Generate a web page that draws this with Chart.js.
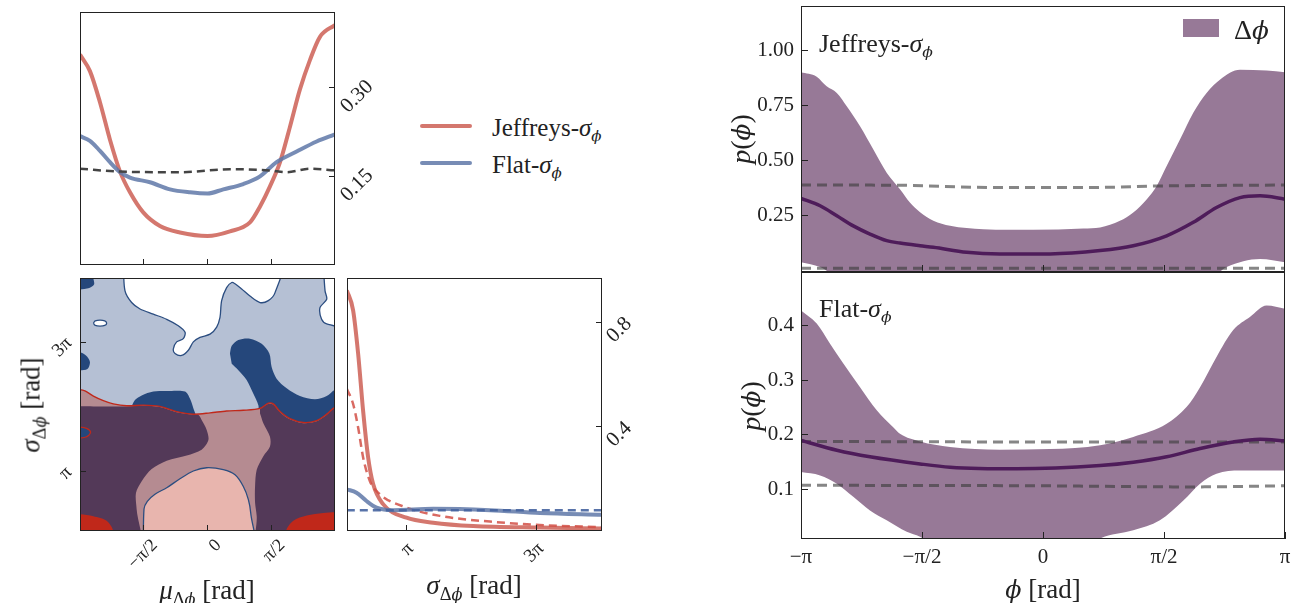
<!DOCTYPE html>
<html>
<head>
<meta charset="utf-8">
<script src="https://cdn.jsdelivr.net/npm/chart.js@4.4.1/dist/chart.umd.min.js"></script>
<style>
  body { margin: 0; background: #fff; width: 1291px; height: 603px; position: relative; overflow: hidden;
         font-family: 'Liberation Serif', serif; color: #222; }
  .box { position: absolute; }
  .lbl { position: absolute; white-space: nowrap; line-height: 1; transform: translate(0, -50%); color: #222; }
  .ctr { transform: translate(-50%, -50%); }
  .rot { transform: translate(-50%, -50%) rotate(-90deg); }
  sub { font-size: 0.68em; vertical-align: -0.3em; line-height: 0; }
  .ph { font-family: 'DejaVu Serif', serif; font-style: italic; font-size: 0.88em; color: #222; }
  .swatch { position: absolute; }
</style>
</head>
<body>

<div class="box" style="left:0;top:0;width:420px;height:275px"><canvas id="muChart"></canvas></div>
<div class="box" style="left:0;top:275px;width:340px;height:328px"><canvas id="jointChart"></canvas></div>
<div class="box" style="left:340px;top:275px;width:330px;height:328px"><canvas id="sigChart"></canvas></div>
<div class="box" style="left:680px;top:0;width:611px;height:273px"><canvas id="jeffChart"></canvas></div>
<div class="box" style="left:680px;top:271px;width:611px;height:332px"><canvas id="flatChart"></canvas></div>

<!-- legend of the left-hand panels -->
<div class="swatch" style="left:420px;top:124px;width:52px;height:4px;border-radius:2px;background:rgba(205,95,85,0.85)"></div>
<div class="lbl" style="left:492px;top:127px;font-size:25px">Jeffreys-<i>σ</i><sub><span class="ph">ϕ</span></sub></div>
<div class="swatch" style="left:420px;top:161px;width:52px;height:4px;border-radius:2px;background:rgba(95,120,168,0.85)"></div>
<div class="lbl" style="left:492px;top:164px;font-size:25px">Flat-<i>σ</i><sub><span class="ph">ϕ</span></sub></div>

<!-- right-hand panels -->
<div class="lbl" style="left:819px;top:44px;font-size:26px">Jeffreys-<i>σ</i><sub><span class="ph">ϕ</span></sub></div>
<div class="lbl" style="left:819px;top:309px;font-size:26px">Flat-<i>σ</i><sub><span class="ph">ϕ</span></sub></div>
<div class="swatch" style="left:1183px;top:19px;width:36px;height:18px;background:#977997"></div>
<div class="lbl" style="left:1234px;top:30px;font-size:28px">Δ<span class="ph">ϕ</span></div>

<!-- axis titles -->
<div class="lbl ctr" style="left:207px;top:590px;font-size:27px"><i>μ</i><sub>Δ<span class="ph">ϕ</span></sub> [rad]</div>
<div class="lbl ctr" style="left:474px;top:585px;font-size:27px"><i>σ</i><sub>Δ<span class="ph">ϕ</span></sub> [rad]</div>
<div class="lbl rot" style="left:31px;top:405px;font-size:27px"><i>σ</i><sub>Δ<span class="ph">ϕ</span></sub> [rad]</div>
<div class="lbl ctr" style="left:1043px;top:589px;font-size:27px"><span class="ph">ϕ</span> [rad]</div>
<div class="lbl rot" style="left:741px;top:139px;font-size:28px"><i>p</i>(<span class="ph">ϕ</span>)</div>
<div class="lbl rot" style="left:751px;top:406px;font-size:28px"><i>p</i>(<span class="ph">ϕ</span>)</div>

<script>
// ---------- data (angles in units of pi) ----------
// marginal of mu (top left)
const muJeffX = [-1, -0.922, -0.843, -0.765, -0.686, -0.608, -0.504, -0.373, -0.216, 0, 0.176, 0.333, 0.412, 0.49, 0.569, 0.647, 0.725, 0.804, 0.882, 1];
const muJeffY = [0.356, 0.328, 0.275, 0.212, 0.158, 0.123, 0.089, 0.066, 0.055, 0.049, 0.057, 0.072, 0.099, 0.133, 0.174, 0.234, 0.297, 0.347, 0.386, 0.406];
const muFlatX = [-1, -0.922, -0.843, -0.765, -0.686, -0.608, -0.451, -0.294, -0.137, 0, 0.124, 0.281, 0.412, 0.542, 0.699, 0.856, 1];
const muFlatY = [0.218, 0.210, 0.193, 0.174, 0.157, 0.148, 0.140, 0.128, 0.123, 0.121, 0.128, 0.137, 0.150, 0.174, 0.192, 0.209, 0.221];
const muPriorX = [-1, -0.686, -0.216, 0.176, 0.49, 0.621, 0.804, 1];
const muPriorY = [0.163, 0.158, 0.157, 0.162, 0.160, 0.157, 0.163, 0.160];

// marginal of sigma (bottom middle)
const sigJeffX = [0.077, 0.174, 0.251, 0.328, 0.405, 0.482, 0.635, 0.995, 1.405, 2.02, 3.046, 4.0];
const sigJeffY = [0.923, 0.846, 0.68, 0.46, 0.282, 0.18, 0.103, 0.051, 0.032, 0.019, 0.013, 0.01];
const sigJeffPriorX = [0.077, 0.174, 0.251, 0.328, 0.431, 0.585, 0.995, 1.508, 2.277, 3.046, 4.0];
const sigJeffPriorY = [0.545, 0.487, 0.397, 0.282, 0.192, 0.141, 0.09, 0.058, 0.036, 0.023, 0.015];
const sigFlatX = [0.077, 0.226, 0.38, 0.534, 0.789, 1.405, 2.277, 3.046, 4.0];
const sigFlatY = [0.16, 0.147, 0.115, 0.09, 0.08, 0.085, 0.08, 0.069, 0.062];
const sigFlatPriorX = [0.077, 4.0];
const sigFlatPriorY = [0.08, 0.08];

// joint (mu, sigma) contour regions, [mu/pi, sigma/pi]
const whiteTop = [[-0.66,4.2],[-0.647,3.80],[-0.595,3.62],[-0.529,3.52],[-0.425,3.44],[-0.32,3.36],[-0.229,3.26],[-0.176,3.16],[-0.19,3.06],[-0.242,3.01],[-0.268,2.90],[-0.255,2.83],[-0.203,2.80],[-0.15,2.88],[-0.111,3.01],[-0.059,3.08],[0.02,3.13],[0.072,3.24],[0.098,3.39],[0.111,3.65],[0.15,3.85],[0.19,3.93],[0.216,3.91],[0.268,3.83],[0.333,3.72],[0.412,3.62],[0.477,3.65],[0.529,3.77],[0.569,4.2]];
const whiteRight = [[0.908,4.2],[0.922,3.80],[0.935,3.67],[0.882,3.54],[0.895,3.36],[0.935,3.29],[1.1,3.26],[1.1,4.2]];
const whiteHole = [[-0.895,3.30],[-0.88,3.335],[-0.843,3.346],[-0.806,3.335],[-0.791,3.30],[-0.806,3.265],[-0.843,3.254],[-0.88,3.265]];
const darkCorner = [[-1.1,4.2],[-0.895,4.2],[-0.895,4.0],[-0.89,3.90],[-0.935,3.84],[-1.1,3.81]];
const darkLeft = [[-1.1,2.85],[-1,2.85],[-0.953,2.80],[-0.922,2.70],[-0.942,2.59],[-1,2.57],[-1.1,2.57]];
const darkRight = [[0.176,2.83],[0.19,2.95],[0.242,3.04],[0.333,3.06],[0.425,2.98],[0.485,2.83],[0.503,2.62],[0.542,2.44],[0.621,2.29],[0.725,2.17],[0.843,2.12],[0.935,2.17],[1.0,2.27],[1.1,2.3],[1.1,1.7],[0.412,1.85],[0.399,2.03],[0.359,2.21],[0.307,2.42],[0.242,2.57],[0.19,2.67]];
const darkMid = [[-0.595,2.01],[-0.569,2.11],[-0.516,2.18],[-0.425,2.24],[-0.294,2.25],[-0.176,2.24],[-0.137,2.13],[-0.111,1.98],[-0.098,1.85],[-0.595,1.85]];
const redEdge = [[-1.1,2.27],[-1,2.27],[-0.961,2.25],[-0.895,2.17],[-0.817,2.10],[-0.739,2.05],[-0.634,2.02],[-0.503,2.03],[-0.373,2.01],[-0.242,1.93],[-0.111,1.89],[0.02,1.91],[0.15,1.94],[0.281,1.95],[0.412,1.98],[0.477,2.06],[0.516,2.05],[0.569,1.93],[0.647,1.82],[0.752,1.76],[0.856,1.79],[0.935,1.89],[0.987,1.98],[1,1.99],[1.1,1.99]];
const purpleLeft = [[-1.1,2.015],[-0.895,2.01],[-0.765,2.01],[-0.634,2.01],[-0.503,2.02],[-0.373,2.0],[-0.242,1.92],[-0.111,1.88],[-0.072,1.88],[-0.046,1.80],[-0.007,1.65],[0.007,1.49],[-0.046,1.34],[-0.163,1.25],[-0.32,1.17],[-0.438,1.04],[-0.516,0.85],[-0.561,0.67],[-0.556,0.42],[-0.529,-0.3],[-1.1,-0.3]];
const purpleRight = [[0.412,1.97],[0.477,2.05],[0.516,2.04],[0.569,1.92],[0.647,1.81],[0.752,1.75],[0.856,1.78],[0.935,1.88],[0.987,1.97],[1.1,1.98],[1.1,-0.3],[0.399,-0.3],[0.386,0.31],[0.373,0.52],[0.373,0.77],[0.386,1.03],[0.438,1.24],[0.49,1.39],[0.49,1.54],[0.438,1.75],[0.412,1.90]];
const pinkDome = [[-0.503,-0.3],[-0.498,0.42],[-0.472,0.54],[-0.412,0.65],[-0.32,0.75],[-0.216,0.89],[-0.111,1.01],[-0.007,1.06],[0.124,1.03],[0.216,0.95],[0.281,0.77],[0.32,0.57],[0.339,0.36],[0.354,-0.3]];
const redCornerL = [[-1.1,0.34],[-1,0.34],[-0.895,0.31],[-0.791,0.24],[-0.739,0.08],[-0.73,-0.3],[-1.1,-0.3]];
const redCornerR = [[0.61,-0.3],[0.616,0.08],[0.673,0.24],[0.778,0.32],[0.908,0.36],[1,0.37],[1.1,0.37],[1.1,-0.3]];
const blueSpot = [[-1.1,1.69],[-1,1.69],[-0.948,1.67],[-0.917,1.61],[-0.948,1.54],[-1,1.52],[-1.1,1.52]];

// p(phi), Jeffreys-sigma panel
const jeffUpX = [-1, -0.935, -0.894, -0.852, -0.811, -0.756, -0.701, -0.646, -0.591, -0.55, -0.508, -0.453, -0.384, -0.247, -0.04, 0.167, 0.236, 0.318, 0.373, 0.429, 0.47, 0.511, 0.566, 0.621, 0.676, 0.731, 0.814, 0.924, 1];
const jeffUpY = [0.90, 0.88, 0.836, 0.806, 0.746, 0.655, 0.55, 0.445, 0.37, 0.31, 0.266, 0.227, 0.204, 0.189, 0.186, 0.192, 0.197, 0.227, 0.265, 0.325, 0.385, 0.475, 0.595, 0.716, 0.806, 0.866, 0.911, 0.908, 0.90];
const jeffLoX = [-1, -0.921, -0.85, 0.70, 0.759, 0.897, 1];
const jeffLoY = [0.039, 0.018, -0.02, -0.02, 0.018, 0.054, 0.039];
const jeffMedX = [-1, -0.921, -0.852, -0.784, -0.715, -0.646, -0.591, -0.508, -0.453, -0.315, -0.178, 0.029, 0.236, 0.373, 0.511, 0.621, 0.717, 0.814, 0.897, 1];
const jeffMedY = [0.329, 0.295, 0.25, 0.204, 0.167, 0.137, 0.126, 0.114, 0.107, 0.084, 0.077, 0.077, 0.092, 0.114, 0.159, 0.22, 0.287, 0.332, 0.34, 0.325];
const jeffPriorHiX = [-1, -0.6, -0.2, 0.2, 0.5, 1];
const jeffPriorHiY = [0.389, 0.388, 0.378, 0.378, 0.385, 0.389];
const jeffPriorLoX = [-1, 0, 1];
const jeffPriorLoY = [0.012, 0.012, 0.012];

// p(phi), Flat-sigma panel
const flatUpX = [-1, -0.935, -0.88, -0.825, -0.756, -0.687, -0.619, -0.591, -0.508, -0.384, -0.178, 0.029, 0.236, 0.373, 0.511, 0.594, 0.649, 0.717, 0.786, 0.855, 0.924, 1];
const flatUpY = [0.427, 0.403, 0.366, 0.33, 0.287, 0.245, 0.214, 0.202, 0.188, 0.178, 0.173, 0.174, 0.181, 0.196, 0.22, 0.251, 0.287, 0.342, 0.391, 0.415, 0.436, 0.43];
const flatLoX = [-1, -0.921, -0.852, -0.784, -0.715, -0.646, -0.563, -0.508, -0.45, 0.2, 0.236, 0.373, 0.483, 0.58, 0.649, 0.717, 0.814, 1];
const flatLoY = [0.132, 0.126, 0.111, 0.087, 0.062, 0.044, 0.023, 0.014, 0.0, 0.0, 0.011, 0.026, 0.044, 0.08, 0.111, 0.129, 0.135, 0.135];
const flatMedX = [-1, -0.852, -0.715, -0.508, -0.384, -0.109, 0.236, 0.373, 0.511, 0.649, 0.786, 0.897, 1];
const flatMedY = [0.19, 0.172, 0.16, 0.147, 0.141, 0.138, 0.144, 0.15, 0.16, 0.175, 0.187, 0.192, 0.189];
const flatPriorHiX = [-1, 0, 1];
const flatPriorHiY = [0.188, 0.187, 0.187];
const flatPriorLoX = [-1, 0, 0.6, 1];
const flatPriorLoY = [0.108, 0.107, 0.105, 0.107];

// tick labels
const phiTicks = [-1, -0.5, 0, 0.5, 1];
const phiLabels = ['\u2212\u03c0', '\u2212\u03c0/2', '0', '\u03c0/2', '\u03c0'];
const muTicks = [-0.5, 0, 0.5];
const muLabels = ['\u2212\u03c0/2', '0', '\u03c0/2'];
const sigTicks = [1, 3];
const sigLabels = ['\u03c0', '3\u03c0'];

// ---------- helpers ----------
Chart.defaults.font.family = "'Liberation Serif', serif";
Chart.defaults.color = '#222';

const framePlugin = {
  id: 'frame',
  afterDraw(chart) {
    const { ctx, chartArea: a } = chart;
    ctx.save();
    ctx.strokeStyle = '#222';
    ctx.lineWidth = 1;
    ctx.strokeRect(a.left + 0.5, a.top + 0.5, a.width - 1, a.height - 1);
    ctx.restore();
  }
};

// every axis gets a fixed box ("room") so the plot areas line up exactly
function scaleOpts(c) {
  const room = c.labels ? (c.room || 55) : 0;
  return {
    type: 'linear',
    position: c.pos,
    min: c.min,
    max: c.max,
    afterBuildTicks: s => { s.ticks = c.ticks.map(v => ({ value: v })); },
    afterFit: s => {
      if (s.isHorizontal()) s.height = room; else s.width = room;
      s.paddingLeft = s.paddingRight = s.paddingTop = s.paddingBottom = 0;
    },
    grid: { drawOnChartArea: false, tickLength: -(c.tl || 6), color: '#222', lineWidth: 1, z: 1 },
    border: { display: false },
    ticks: {
      display: !!c.labels,
      autoSkip: false,
      callback: (v, i) => c.labels ? c.labels[i] : '',
      font: { size: c.size || 21 },
      color: '#222',
      padding: c.pad || 0,
      minRotation: c.rot || 0,
      maxRotation: c.rot || 0,
      labelOffset: c.off || 0
    }
  };
}

function pts(xs, ys) { return xs.map((x, i) => ({ x, y: ys[i] })); }

function curve(xs, ys, color, width, dash) {
  return { data: pts(xs, ys), borderColor: color, borderWidth: width, borderDash: dash || [],
           pointRadius: 0, fill: false, tension: 0.4, cubicInterpolationMode: 'monotone' };
}

function region(poly, color, edge, tension) {
  const d = poly.map(p => ({ x: p[0], y: p[1] }));
  if (edge) d.push(d[0]);
  return { data: d, fill: 'shape', backgroundColor: color, borderColor: edge || 'rgba(0,0,0,0)',
           borderWidth: edge ? 1.3 : 1, pointRadius: 0, tension: tension === undefined ? 0.3 : tension };
}

// margin = distance from canvas edge to plot area; the axis room is taken out of it
function makeChart(id, margin, xs, ys, datasets) {
  const pad = Object.assign({}, margin);
  const xRoom = xs.labels ? (xs.room || 55) : 0;
  const yRoom = ys.labels ? (ys.room || 55) : 0;
  pad[xs.pos] -= xRoom;
  pad[ys.pos] -= yRoom;
  return new Chart(document.getElementById(id), {
    type: 'line',
    data: { datasets },
    options: {
      responsive: true, maintainAspectRatio: false, animation: false, events: [],
      layout: { padding: pad },
      plugins: { legend: { display: false }, tooltip: { enabled: false } },
      scales: { x: scaleOpts(xs), y: scaleOpts(ys) }
    },
    plugins: [framePlugin]
  });
}

const redLine = 'rgba(205,95,85,0.85)';
const blueLine = 'rgba(95,120,168,0.85)';
const bandColor = '#977997';
const medColor = '#4e1c5a';
const priorGrey = 'rgba(60,60,60,0.62)';

// ---------- top left: p(mu) ----------
makeChart('muChart', { left: 80, top: 12, right: 85, bottom: 10 },
  { pos: 'bottom', min: -1, max: 1, ticks: muTicks },
  { pos: 'right', min: 0, max: 0.428, ticks: [0.15, 0.30], labels: ['0.15', '0.30'], rot: 45, pad: 15, off: 22, room: 60 },
  [
    curve(muJeffX, muJeffY, redLine, 4),
    curve(muFlatX, muFlatY, blueLine, 4),
    curve(muPriorX, muPriorY, '#444', 2.5, [8, 5])
  ].reverse());

// ---------- bottom left: joint contours ----------
const lightBlue = '#b5c0d4', darkBlue = '#25477b', deepPurple = '#533958',
      mauve = '#b58b91', pink = '#e8b5ae', red = '#c0281a', blueEdge = '#2b4d80', redEdgeCol = '#c0281a';
makeChart('jointChart', { left: 80, top: 3, right: 5, bottom: 72 },
  { pos: 'bottom', min: -1, max: 1, ticks: muTicks, labels: muLabels, rot: 45, pad: 10, off: 11, size: 18, room: 45 },
  { pos: 'left', min: 0.08, max: 4.0, ticks: sigTicks, labels: sigLabels, rot: 45, pad: 17, off: -2, size: 19, room: 40 },
  [
    region([[-1.1,-0.3],[1.1,-0.3],[1.1,4.3],[-1.1,4.3]], lightBlue, null, 0),
    region(whiteTop, '#fff', blueEdge),
    region(whiteRight, '#fff', blueEdge),
    region(whiteHole, '#fff', blueEdge, 0.4),
    region(darkCorner, darkBlue),
    region(darkLeft, darkBlue),
    region(darkRight, darkBlue),
    region(darkMid, darkBlue),
    region(redEdge.concat([[1.1,-0.3],[-1.1,-0.3]]), mauve),
    region(purpleLeft, deepPurple),
    region(purpleRight, deepPurple),
    region(blueSpot, darkBlue, redEdgeCol),
    region(pinkDome, pink, blueEdge),
    region(redCornerL, red),
    region(redCornerR, red),
    { data: redEdge.map(p => ({ x: p[0], y: p[1] })), borderColor: redEdgeCol, borderWidth: 1.4,
      pointRadius: 0, fill: false, tension: 0.3 }
  ].reverse());

// ---------- bottom middle: p(sigma) ----------
makeChart('sigChart', { left: 7, top: 3, right: 68, bottom: 72 },
  { pos: 'bottom', min: 0.08, max: 4.0, ticks: sigTicks, labels: sigLabels, rot: 45, pad: 13, off: 4, size: 19, room: 45 },
  { pos: 'right', min: 0, max: 0.97, ticks: [0.4, 0.8], labels: ['0.4', '0.8'], rot: 45, pad: 14, off: 17, room: 55 },
  [
    curve(sigJeffX, sigJeffY, redLine, 4),
    curve(sigJeffPriorX, sigJeffPriorY, 'rgba(210,80,70,0.85)', 2.5, [8, 5]),
    curve(sigFlatX, sigFlatY, blueLine, 4),
    curve(sigFlatPriorX, sigFlatPriorY, 'rgba(70,100,160,0.9)', 2.5, [8, 5])
  ].reverse());

// ---------- right: p(phi) panels ----------
function bandSets(upX, upY, loX, loY, medX, medY, hiX, hiY, lX, lY) {
  const up = curve(upX, upY, 'rgba(0,0,0,0)', 1);
  up.fill = '+1';
  up.backgroundColor = bandColor;
  up.tension = 0.3;
  const lo = curve(loX, loY, 'rgba(0,0,0,0)', 1);
  lo.tension = 0.3;
  return [
    curve(medX, medY, medColor, 3.5),
    curve(hiX, hiY, priorGrey, 3, [10, 6]),
    curve(lX, lY, priorGrey, 3, [10, 6]),
    up,
    lo
  ];
}

makeChart('jeffChart', { left: 121, top: 6, right: 6, bottom: 1 },
  { pos: 'bottom', min: -1, max: 1, ticks: muTicks, tl: 7 },
  { pos: 'left', min: -0.005, max: 1.2, ticks: [0.25, 0.5, 0.75, 1.0], labels: ['0.25', '0.50', '0.75', '1.00'], pad: 14, tl: 7, room: 60 },
  bandSets(jeffUpX, jeffUpY, jeffLoX, jeffLoY, jeffMedX, jeffMedY, jeffPriorHiX, jeffPriorHiY, jeffPriorLoX, jeffPriorLoY));

makeChart('flatChart', { left: 121, top: 1, right: 6, bottom: 64 },
  { pos: 'bottom', min: -1, max: 1, ticks: phiTicks, labels: phiLabels, pad: 13, tl: 7, room: 40 },
  { pos: 'left', min: 0.01, max: 0.497, ticks: [0.1, 0.2, 0.3, 0.4], labels: ['0.1', '0.2', '0.3', '0.4'], pad: 14, tl: 7, room: 60 },
  bandSets(flatUpX, flatUpY, flatLoX, flatLoY, flatMedX, flatMedY, flatPriorHiX, flatPriorHiY, flatPriorLoX, flatPriorLoY));
</script>
</body>
</html>
